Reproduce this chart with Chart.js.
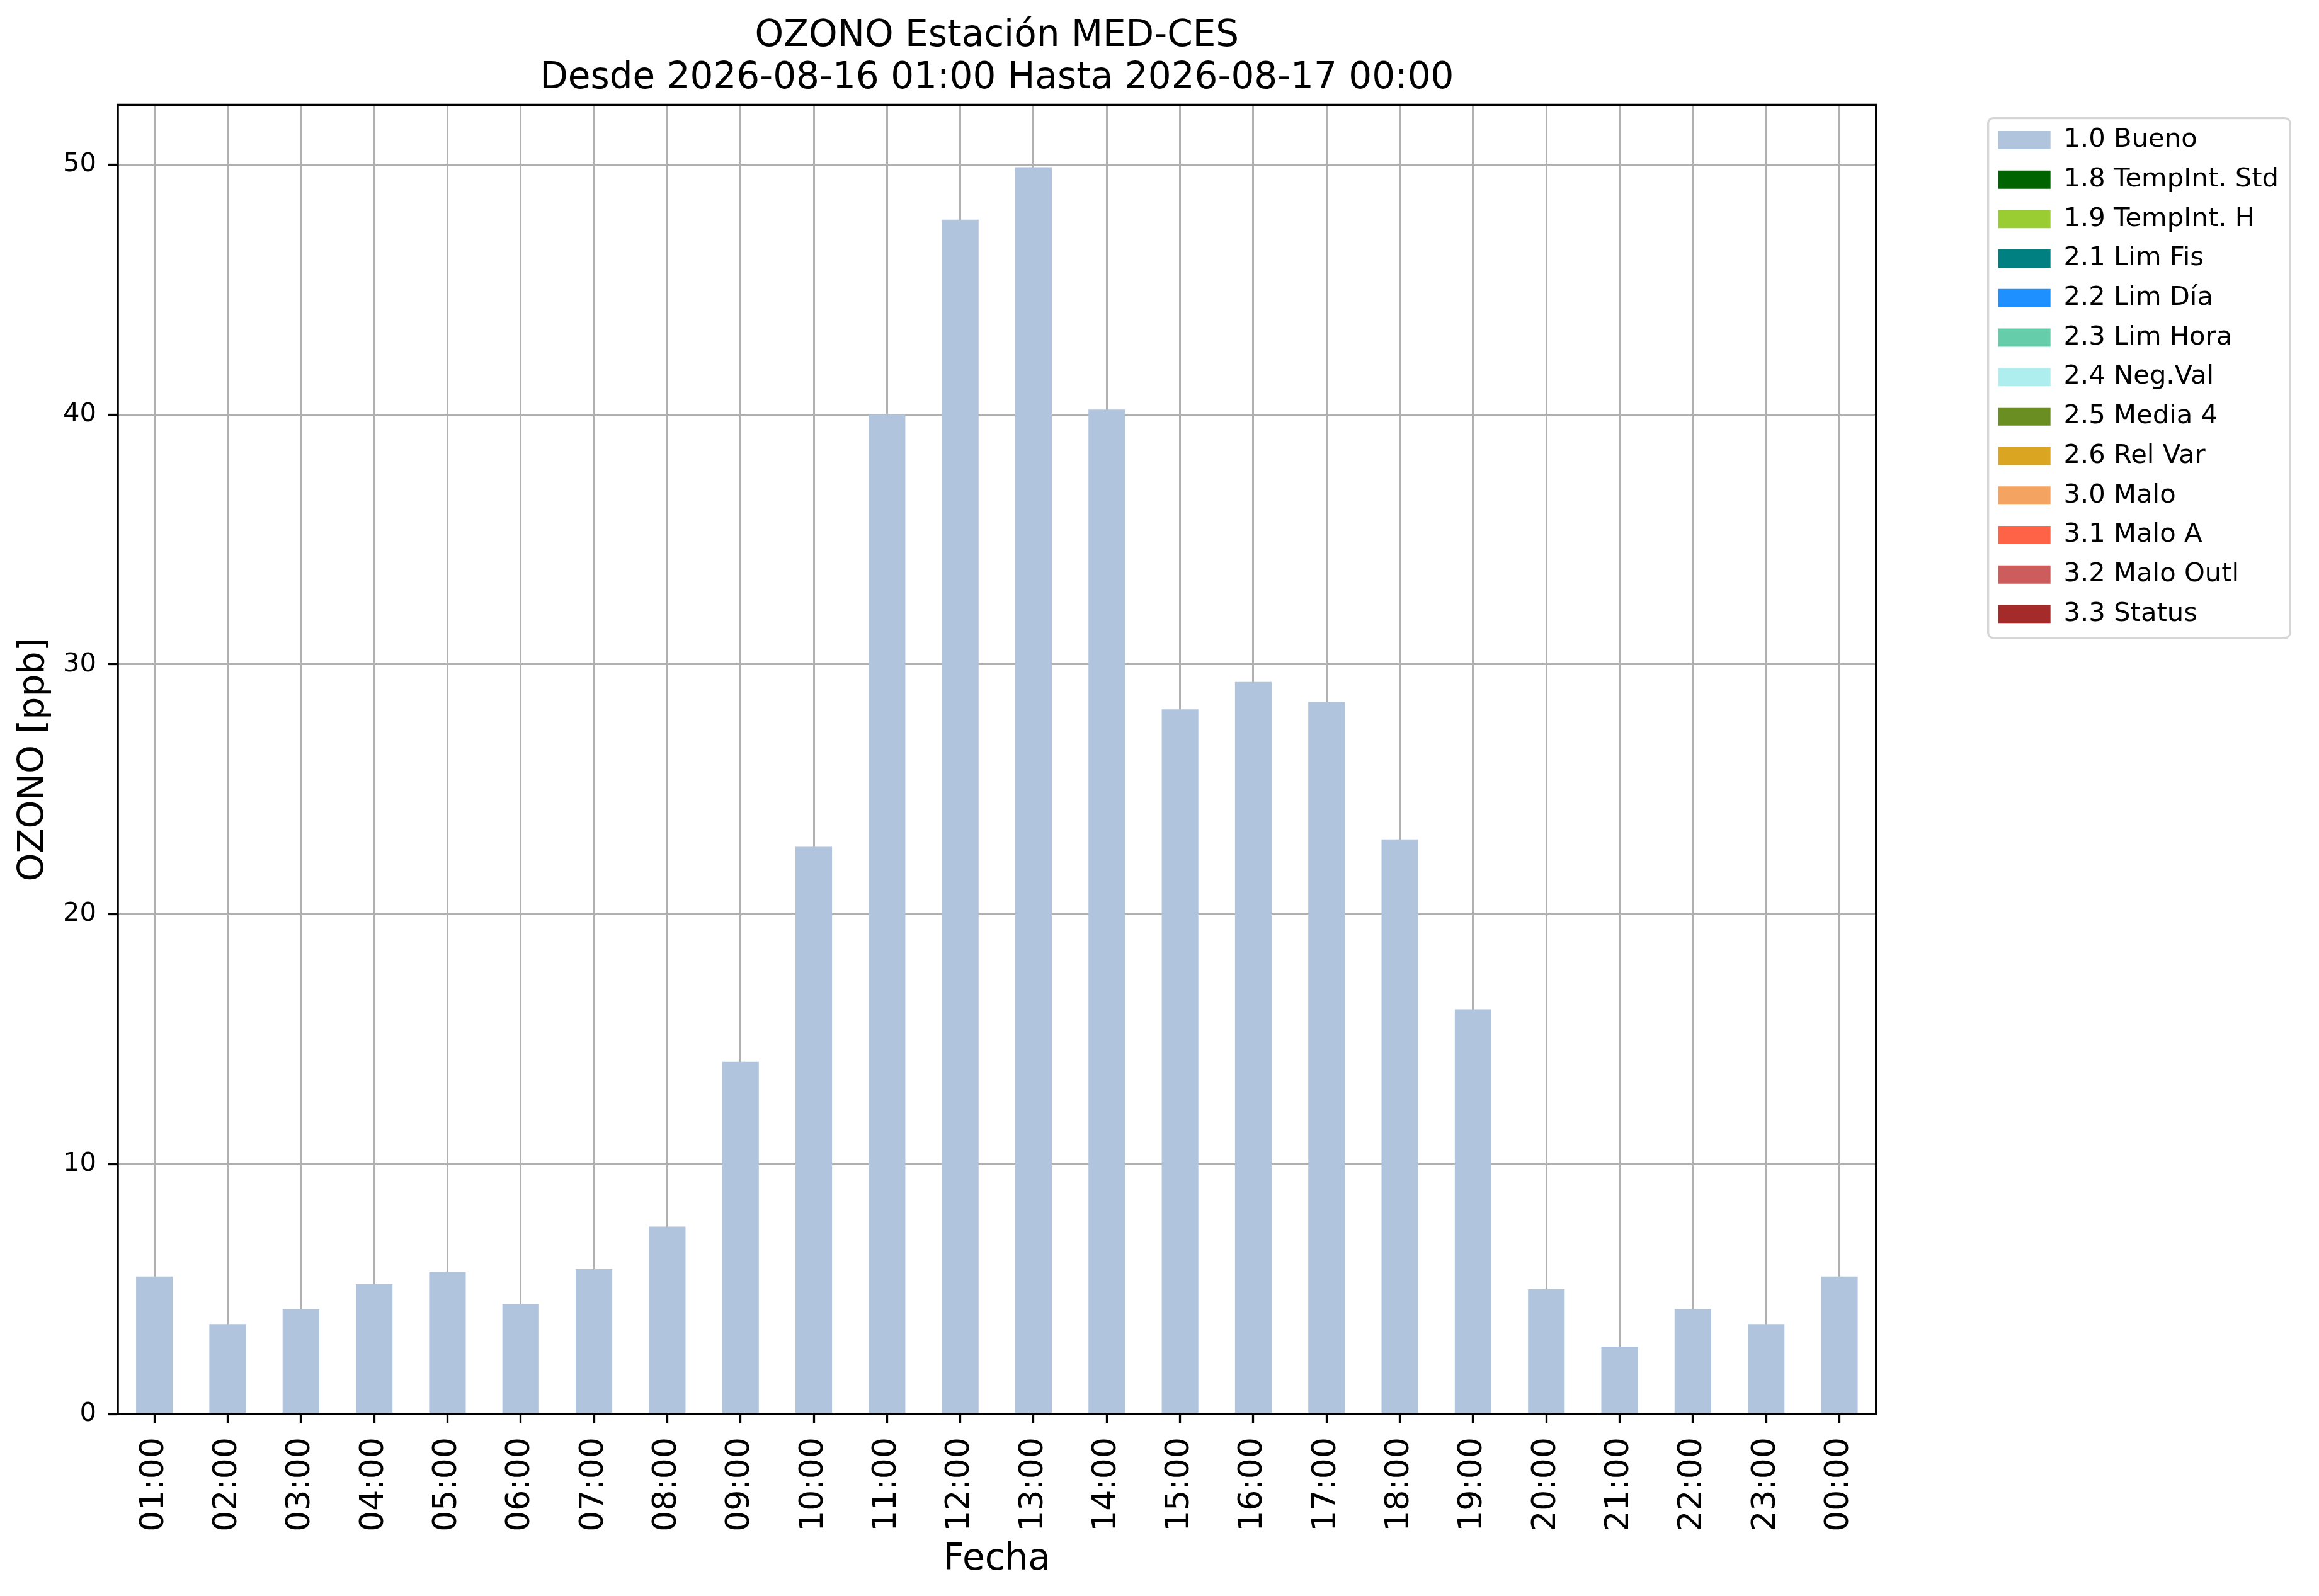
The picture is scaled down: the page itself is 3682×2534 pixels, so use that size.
<!DOCTYPE html>
<html>
<head>
<meta charset="utf-8">
<script src="https://cdn.jsdelivr.net/npm/chart.js@4.4.1/dist/chart.umd.min.js"></script>
<style>
    html, body { margin: 0; padding: 0; background: #ffffff; }
    #wrap { width: 3682px; height: 2534px; position: relative; }
</style>
</head>
<body>
<div id="wrap"><canvas id="chart"></canvas></div>
<script>
// Hour labels for the x axis
const hours = ["01:00", "02:00", "03:00", "04:00", "05:00", "06:00", "07:00", "08:00",
    "09:00", "10:00", "11:00", "12:00", "13:00", "14:00", "15:00", "16:00",
    "17:00", "18:00", "19:00", "20:00", "21:00", "22:00", "23:00", "00:00"];

// Ozone values flagged 1.0 Bueno (ppb)
const bueno = [5.5, 3.6, 4.2, 5.2, 5.7, 4.4, 5.8, 7.5, 14.1, 22.7, 40.0, 47.8,
    49.9, 40.2, 28.2, 29.3, 28.5, 23.0, 16.2, 5.0, 2.7, 4.2, 3.6, 5.5];

// Quality flags shown in the legend
const flagNames = ["1.0 Bueno", "1.8 TempInt. Std", "1.9 TempInt. H", "2.1 Lim Fis",
    "2.2 Lim Día", "2.3 Lim Hora", "2.4 Neg.Val", "2.5 Media 4", "2.6 Rel Var",
    "3.0 Malo", "3.1 Malo A", "3.2 Malo Outl", "3.3 Status"];
const flagColors = ["#B0C4DE", "#006400", "#9ACD32", "#008080", "#1E90FF", "#66CDAA",
    "#AFEEEE", "#6B8E23", "#DAA520", "#F4A460", "#FF6347", "#CD5C5C", "#A52A2A"];

// y axis ticks
const yTicks = [0, 10, 20, 30, 40, 50];
const yMax = 52.4;

// only the "Bueno" flag has values in this period
const flagData = [bueno, [], [], [], [], [], [], [], [], [], [], [], []];

const datasets = flagNames.map((name, i) => ({
    label: name,
    data: flagData[i],
    backgroundColor: flagColors[i],
    borderWidth: 0,
    barPercentage: 0.5,
    categoryPercentage: 1.0
}));

const FONT = "'DejaVu Sans', sans-serif";
const GRID = "#b0b0b0";

// draws the black box around the plot area and the frame around the legend
const framePlugin = {
    id: "frame",
    afterDraw(chart) {
        const ctx = chart.ctx;
        const a = chart.chartArea;
        ctx.save();
        ctx.strokeStyle = "#000000";
        ctx.lineWidth = 3.3;
        ctx.strokeRect(a.left, a.top, a.right - a.left, a.bottom - a.top);

        const boxes = chart.legend.legendHitBoxes;
        if (boxes && boxes.length) {
            const first = boxes[0];
            const last = boxes[boxes.length - 1];
            let right = 0;
            boxes.forEach(b => { right = Math.max(right, b.left + b.width); });
            const x = first.left - 16;
            const y = first.top - 14;
            const w = right + 18 - x;
            const h = last.top + last.height + 17 - y;
            ctx.strokeStyle = "#d6d6d6";
            ctx.lineWidth = 3.3;
            ctx.beginPath();
            ctx.roundRect(x, y, w, h, 8);
            ctx.stroke();
        }
        ctx.restore();
    }
};

const ctx = document.getElementById("chart").getContext("2d");
const chart = new Chart(ctx, {
    type: "bar",
    data: {
        labels: hours,
        datasets: datasets
    },
    plugins: [framePlugin],
    options: {
        responsive: true,
        maintainAspectRatio: false,
        devicePixelRatio: 1,
        animation: false,
        layout: {
            padding: { left: 0, right: 54, top: 0, bottom: 0 }
        },
        plugins: {
            title: {
                display: true,
                fullSize: false,
                text: ["OZONO Estación MED-CES", "Desde 2026-08-16 01:00 Hasta 2026-08-17 00:00"],
                color: "#000000",
                font: { family: FONT, size: 58, weight: "normal", lineHeight: 1.15 },
                padding: { top: 25, bottom: 8 }
            },
            legend: {
                position: "right",
                align: "start",
                fullSize: false,
                title: {
                    display: true,
                    text: "",
                    font: { size: 1 },
                    padding: { top: 13, bottom: 0 }
                },
                labels: {
                    color: "#000000",
                    font: { family: FONT, size: 41.7 },
                    boxWidth: 83,
                    boxHeight: 29,
                    padding: 21
                }
            },
            tooltip: { enabled: false }
        },
        scales: {
            x: {
                stacked: true,
                offset: true,
                z: 1,
                afterFit: s => { s.height = 289; },
                grid: {
                    display: true,
                    offset: false,
                    color: GRID,
                    lineWidth: 3,
                    drawTicks: true,
                    tickLength: 15,
                    tickColor: "#000000",
                    tickWidth: 3.3
                },
                border: { display: true, color: "#000000", width: 3.3 },
                ticks: {
                    color: "#000000",
                    font: { family: FONT, size: 52 },
                    minRotation: 90,
                    maxRotation: 90,
                    autoSkip: false,
                    padding: 22
                },
                title: {
                    display: true,
                    text: "Fecha",
                    color: "#000000",
                    font: { family: FONT, size: 58 },
                    padding: { top: 0, bottom: 22 }
                }
            },
            y: {
                stacked: true,
                min: 0,
                max: yMax,
                z: 1,
                afterFit: s => { s.width = 187; },
                afterBuildTicks: s => { s.ticks = yTicks.map(v => ({ value: v })); },
                grid: {
                    display: true,
                    color: GRID,
                    lineWidth: 3,
                    drawTicks: true,
                    tickLength: 15,
                    tickColor: "#000000",
                    tickWidth: 3.3
                },
                border: { display: true, color: "#000000", width: 3.3 },
                ticks: {
                    color: "#000000",
                    font: { family: FONT, size: 41.7 },
                    padding: 19,
                    includeBounds: false
                },
                title: {
                    display: true,
                    text: "OZONO [ppb]",
                    color: "#000000",
                    font: { family: FONT, size: 57 },
                    padding: { top: 20, bottom: 0 }
                }
            },
            gap: {
                type: "linear",
                position: "right",
                display: true,
                afterFit: s => { s.width = 173; },
                grid: { display: false, drawTicks: false },
                border: { display: false },
                ticks: { display: false }
            }
        }
    }
});
</script>
</body>
</html>
